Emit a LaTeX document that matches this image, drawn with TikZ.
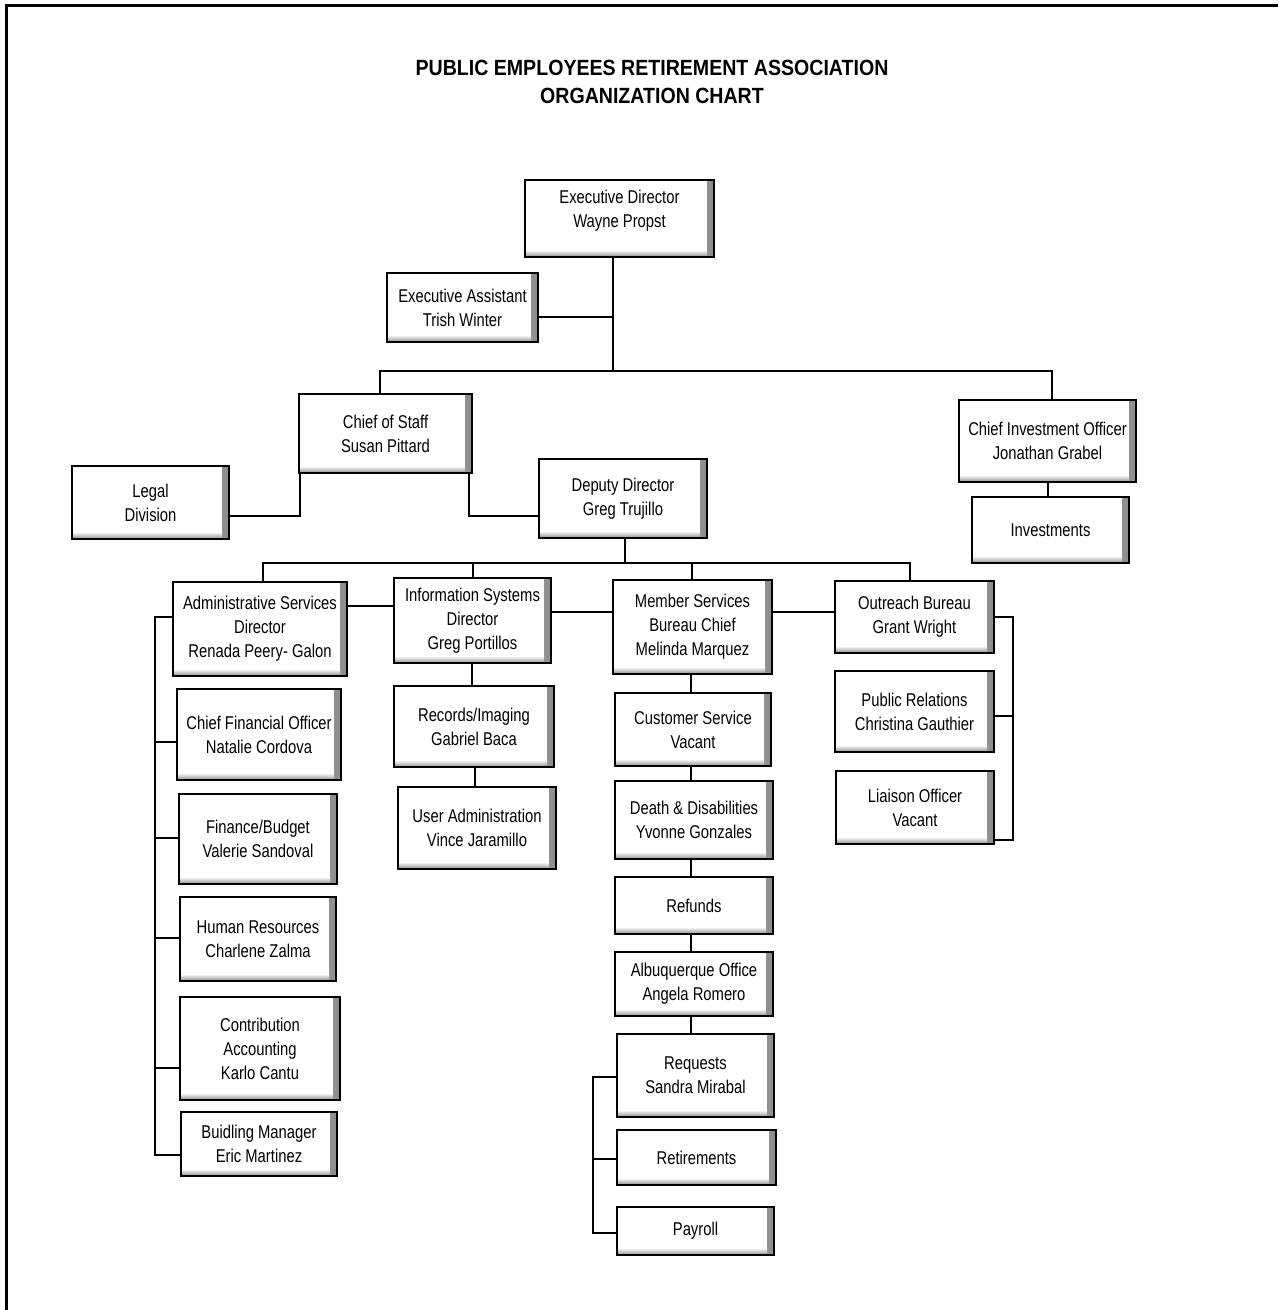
\documentclass[tikz,border=0pt]{standalone}
\usepackage{fontspec}
\setmainfont{Liberation Sans}[FakeStretch=0.8]
\newfontfamily\titlefont{Liberation Sans}[FakeStretch=0.89]
\begin{document}
\begin{tikzpicture}[x=1pt,y=-1pt,
  box/.style={draw, line width=1.1pt, fill=white, align=center, inner sep=0pt,
    font=\fontsize{18.5}{24}\selectfont,
    path picture={
      \shade[left color=white, right color=black!45]
        ([xshift=-7pt]path picture bounding box.north east) rectangle (path picture bounding box.south east);
      \shade[top color=white, bottom color=black!45]
        ([yshift=7pt]path picture bounding box.south west) rectangle ([xshift=-7pt]path picture bounding box.south east);
    }},
  conn/.style={line width=1.1pt},
  frame/.style={line width=3pt}]
\useasboundingbox (0,0) rectangle (1278,1310);
% page frame
\coordinate (fTL) at (6.3,5);
\coordinate (fTR) at (1278,5);
\coordinate (fBL) at (6.3,1310);
\draw[frame] (fBL) -- (fTL) -- (fTR);
% title
\node[align=center, font=\titlefont\bfseries\fontsize{22}{28}\selectfont] (title) at (652,82)
  {PUBLIC EMPLOYEES RETIREMENT ASSOCIATION\\ORGANIZATION CHART};
% boxes
\node[box, minimum width=189, minimum height=77] (ED) at (619.5,218.5) {\raisebox{3pt}[0pt][0pt]{\begin{tabular}{@{}c@{}}Executive Director\\Wayne Propst\end{tabular}}};
\node[box, minimum width=151, minimum height=69] (EA) at (462.5,307.5) {Executive Assistant\\Trish Winter};
\node[box, minimum width=173, minimum height=79] (CoS) at (385.5,433.5) {Chief of Staff\\Susan Pittard};
\node[box, minimum width=157, minimum height=73] (Legal) at (150.5,502.5) {Legal\\Division};
\node[box, minimum width=168, minimum height=79] (DD) at (623,498.5) {Deputy Director\\Greg Trujillo};
\node[box, minimum width=177, minimum height=82] (CIO) at (1047.5,441) {Chief Investment Officer\\Jonathan Grabel};
\node[box, minimum width=157, minimum height=66] (Inv) at (1050.5,530) {Investments};
\node[box, minimum width=174, minimum height=94] (Admin) at (260,629) {Administrative Services\\Director\\Renada Peery- Galon};
\node[box, minimum width=157, minimum height=85] (IS) at (472.5,620.5) {Information Systems\\Director\\Greg Portillos};
\node[box, minimum width=159, minimum height=94] (MS) at (692.5,627) {Member Services\\Bureau Chief\\Melinda Marquez};
\node[box, minimum width=159, minimum height=72] (OB) at (914.5,617) {Outreach Bureau\\Grant Wright};
\node[box, minimum width=164, minimum height=91] (CFO) at (259,734.5) {Chief Financial Officer\\Natalie Cordova};
\node[box, minimum width=158, minimum height=90] (FB) at (258,839) {Finance/Budget\\Valerie Sandoval};
\node[box, minimum width=156, minimum height=84] (HR) at (258,939) {Human Resources\\Charlene Zalma};
\node[box, minimum width=160, minimum height=103] (CA) at (260,1048.5) {Contribution\\Accounting\\Karlo Cantu};
\node[box, minimum width=156, minimum height=64] (BM) at (259,1144) {Buidling Manager\\Eric Martinez};
\node[box, minimum width=160, minimum height=81] (RI) at (474,726.5) {Records/Imaging\\Gabriel Baca};
\node[box, minimum width=158, minimum height=82] (UA) at (477,828) {User Administration\\Vince Jaramillo};
\node[box, minimum width=156, minimum height=73] (CS) at (693,729.5) {Customer Service\\Vacant};
\node[box, minimum width=158, minimum height=78] (DDis) at (694,820) {Death \& Disabilities\\Yvonne Gonzales};
\node[box, minimum width=158, minimum height=57] (Ref) at (694,905.5) {Refunds};
\node[box, minimum width=158, minimum height=64] (ABQ) at (694,984) {Albuquerque Office\\Angela Romero};
\node[box, minimum width=157, minimum height=83] (Req) at (695.5,1075.5) {Requests\\Sandra Mirabal};
\node[box, minimum width=159, minimum height=55] (Ret) at (696.5,1157.5) {Retirements};
\node[box, minimum width=157, minimum height=48] (Pay) at (695.5,1231) {Payroll};
\node[box, minimum width=159, minimum height=81] (PR) at (914.5,711.5) {Public Relations\\Christina Gauthier};
\node[box, minimum width=158, minimum height=73] (LO) at (915,807.5) {Liaison Officer\\Vacant};
% junction coordinates
\coordinate (j1) at (613,371);
\coordinate (j2) at (613,317);
\coordinate (b1L) at (380,371);
\coordinate (b1R) at (1052,371);
\coordinate (l1) at (300,516);
\coordinate (d1) at (469,516);
\coordinate (c1) at (1048,490);
\coordinate (b2) at (625,563);
\coordinate (b2L) at (263,563);
\coordinate (b2R) at (910,563);
\coordinate (b2i) at (473,563);
\coordinate (b2m) at (692,563);
\coordinate (h1) at (0,606);
\coordinate (h2) at (0,612);
\coordinate (a0) at (155,617);
\coordinate (a1) at (155,742);
\coordinate (a2) at (155,838);
\coordinate (a3) at (155,938);
\coordinate (a4) at (155,1068);
\coordinate (a5) at (155,1155);
\coordinate (i1) at (472,0);
\coordinate (i2) at (475,0);
\coordinate (m1) at (691,0);
\coordinate (r0) at (593,1077);
\coordinate (r1) at (593,1159);
\coordinate (r2) at (593,1233);
\coordinate (o0) at (1013,617);
\coordinate (o1) at (1013,716);
\coordinate (o2) at (1013,840);
% connectors
\draw[conn] (ED.south -| j1) -- (j1);
\draw[conn] (EA.east |- j2) -- (j2);
\draw[conn] (CoS.north -| b1L) -- (b1L) -- (b1R) -- (CIO.north -| b1R);
\draw[conn] (CoS.south -| l1) -- (l1) -- (Legal.east |- l1);
\draw[conn] (CoS.south -| d1) -- (d1) -- (DD.west |- d1);
\draw[conn] (CIO.south -| c1) -- (Inv.north -| c1);
\draw[conn] (DD.south -| b2) -- (b2);
\draw[conn] (Admin.north -| b2L) -- (b2L) -- (b2R) -- (OB.north -| b2R);
\draw[conn] (b2i) -- (IS.north -| b2i);
\draw[conn] (b2m) -- (MS.north -| b2m);
\draw[conn] (Admin.east |- h1) -- (IS.west |- h1);
\draw[conn] (IS.east |- h2) -- (MS.west |- h2);
\draw[conn] (MS.east |- h2) -- (OB.west |- h2);
\draw[conn] (Admin.west |- a0) -- (a0) -- (a5) -- (BM.west |- a5);
\draw[conn] (a1) -- (CFO.west |- a1);
\draw[conn] (a2) -- (FB.west |- a2);
\draw[conn] (a3) -- (HR.west |- a3);
\draw[conn] (a4) -- (CA.west |- a4);
\draw[conn] (IS.south -| i1) -- (RI.north -| i1);
\draw[conn] (RI.south -| i2) -- (UA.north -| i2);
\draw[conn] (MS.south -| m1) -- (CS.north -| m1);
\draw[conn] (CS.south -| m1) -- (DDis.north -| m1);
\draw[conn] (DDis.south -| m1) -- (Ref.north -| m1);
\draw[conn] (Ref.south -| m1) -- (ABQ.north -| m1);
\draw[conn] (ABQ.south -| m1) -- (Req.north -| m1);
\draw[conn] (Req.west |- r0) -- (r0) -- (r2) -- (Pay.west |- r2);
\draw[conn] (r1) -- (Ret.west |- r1);
\draw[conn] (OB.east |- o0) -- (o0) -- (o2) -- (LO.east |- o2);
\draw[conn] (o1) -- (PR.east |- o1);
\end{tikzpicture}
\end{document}
